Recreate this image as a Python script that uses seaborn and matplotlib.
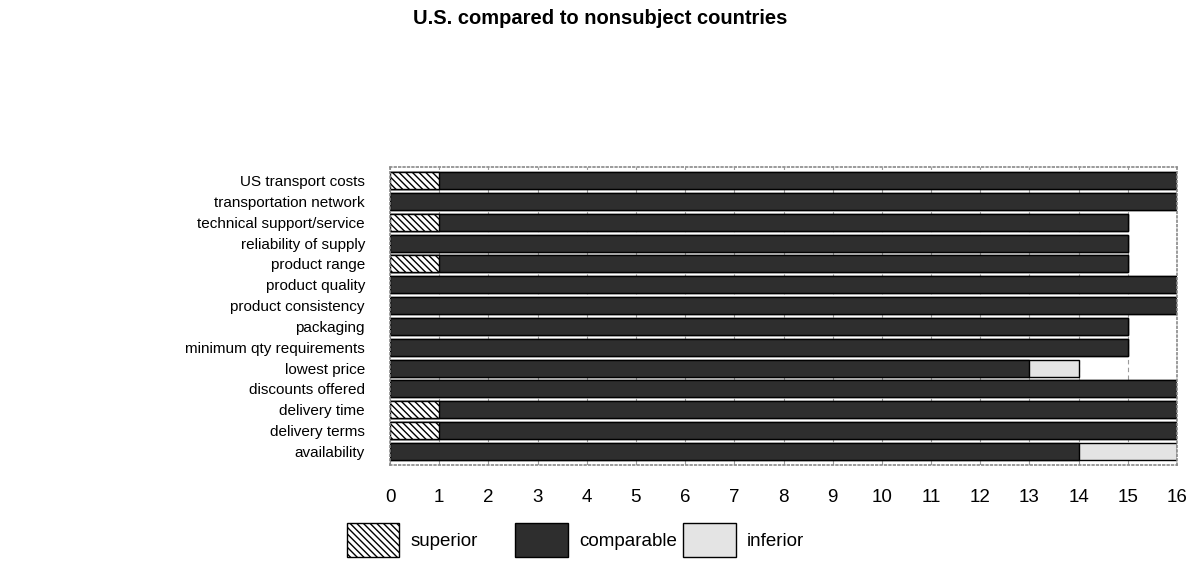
import matplotlib
matplotlib.use("Agg")
import matplotlib.pyplot as plt
import seaborn as sns
import pandas as pd
from matplotlib.patches import Patch

# Responses per factor: how U.S. product compares to nonsubject countries
categories = [
    "US transport costs", "transportation network", "technical support/service",
    "reliability of supply", "product range", "product quality",
    "product consistency", "packaging", "minimum qty requirements",
    "lowest price", "discounts offered", "delivery time", "delivery terms",
    "availability",
]
superior = [1, 0, 1, 0, 1, 0, 0, 0, 0, 0, 0, 1, 1, 0]
comparable = [15, 16, 14, 15, 14, 16, 16, 15, 15, 13, 16, 15, 15, 14]
inferior = [0, 0, 0, 0, 0, 0, 0, 0, 0, 1, 0, 0, 0, 2]
x_ticks = list(range(0, 17))

df = pd.DataFrame({
    "factor": categories,
    "superior": superior,
    "comparable": comparable,
    "inferior": inferior,
})
df["sup_comp"] = df["superior"] + df["comparable"]
df["total"] = df["sup_comp"] + df["inferior"]

sns.set_style("white")
plt.rcParams["font.family"] = ["Liberation Sans", "DejaVu Sans"]
plt.rcParams["text.color"] = "black"
plt.rcParams["xtick.color"] = "black"
plt.rcParams["ytick.color"] = "black"
plt.rcParams["hatch.linewidth"] = 1.0

fig = plt.figure(figsize=(11.88, 5.65), dpi=100)
ax = fig.add_axes([390 / 1188, 1 - 465 / 565, (1177 - 390) / 1188, (465 - 167) / 565])

bar_w = 0.82
inferior_color = "#e4e4e4"
comparable_color = "#2e2e2e"
sup_hatch = "\\\\\\\\\\"

# Stack by overdrawing cumulative totals, widest first
sns.barplot(data=df, x="total", y="factor", order=categories, orient="h",
            color=inferior_color, saturation=1, width=bar_w,
            edgecolor="black", linewidth=1.0, ax=ax)
sns.barplot(data=df, x="sup_comp", y="factor", order=categories, orient="h",
            color=comparable_color, saturation=1, width=bar_w,
            edgecolor="black", linewidth=1.0, ax=ax)
n1 = len(ax.patches)
sns.barplot(data=df, x="superior", y="factor", order=categories, orient="h",
            color="white", saturation=1, width=bar_w,
            edgecolor="black", linewidth=1.0, ax=ax)
for p in ax.patches[n1:]:
    p.set_hatch(sup_hatch)
    if p.get_width() == 0:
        p.set_visible(False)

ax.set_xlim(0, 16)
ax.set_ylim(13.65, -0.65)
ax.set_xticks(x_ticks)
ax.set_xlabel("")
ax.set_ylabel("")
ax.set_axisbelow(True)
ax.grid(axis="x", linestyle=(0, (4, 3)), color="#9a9a9a", linewidth=0.8)
ax.grid(axis="y", visible=False)
for s in ax.spines.values():
    s.set_visible(True)
    s.set_color("#8a8a8a")
    s.set_linestyle(":")
    s.set_linewidth(1.2)

ax.tick_params(axis="x", length=0, pad=17, labelsize=13.5, labelcolor="black")
ax.tick_params(axis="y", length=0, pad=18, labelsize=11, labelcolor="black")

fig.text(600 / 1188, 1 - 18 / 565, "U.S. compared to nonsubject countries",
         ha="center", va="center", fontsize=14.5, fontweight="bold", color="black")

# Legend entries placed individually along the bottom
legend_items = [
    (347, Patch(facecolor="white", edgecolor="black", hatch=sup_hatch, label="superior")),
    (515, Patch(facecolor=comparable_color, edgecolor="black", label="comparable")),
    (683, Patch(facecolor=inferior_color, edgecolor="black", label="inferior")),
]
for x_px, handle in legend_items:
    fig.legend(handles=[handle], loc="center left",
               bbox_to_anchor=(x_px / 1188, 1 - 540 / 565), frameon=False,
               fontsize=13.5, handlelength=2.8, handleheight=2.35,
               handletextpad=0.6, borderpad=0, borderaxespad=0)

fig.savefig("out.png", dpi=100)
